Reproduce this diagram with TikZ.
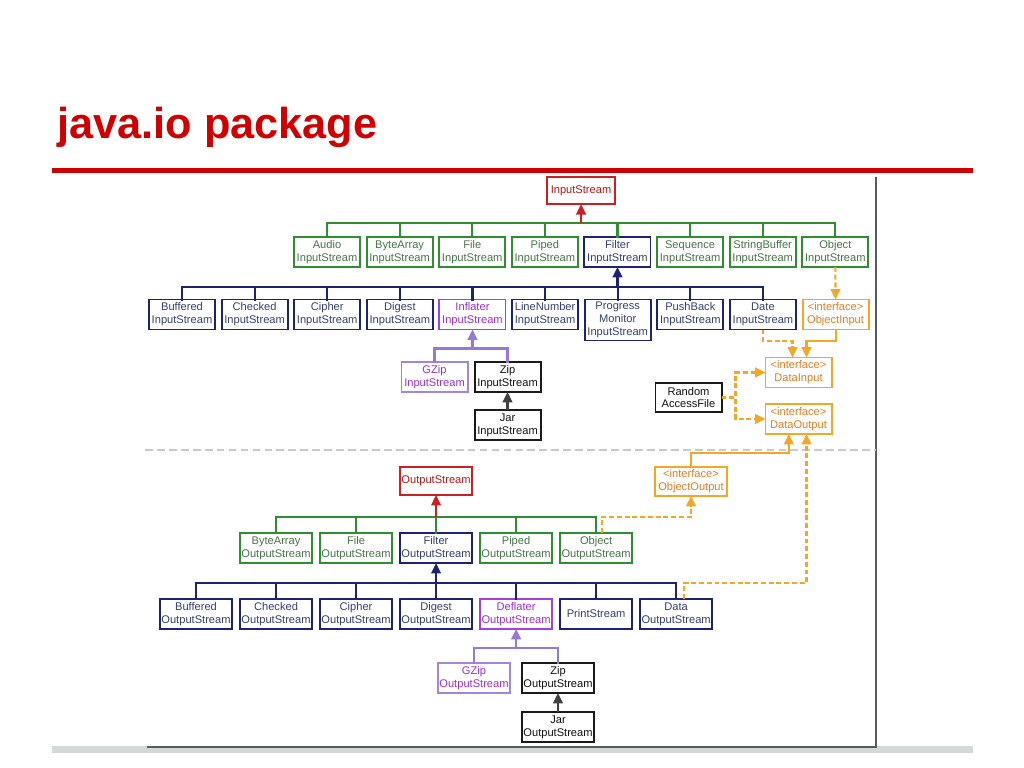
\documentclass[tikz,border=0pt]{standalone}
\usepackage{fontspec}
\setmainfont{Liberation Sans}
\usetikzlibrary{positioning, arrows.meta}

\definecolor{titlered}{HTML}{D00000}
\definecolor{redline}{HTML}{CC1F1F}
\definecolor{redtext}{HTML}{B01818}
\definecolor{grnline}{HTML}{2F8F2F}
\definecolor{grntext}{HTML}{467546}
\definecolor{blueline}{HTML}{1C2470}
\definecolor{bluetext}{HTML}{34406F}
\definecolor{purline}{HTML}{A53FE0}
\definecolor{purtext}{HTML}{9A30D0}
\definecolor{lavline}{HTML}{A585DC}
\definecolor{lavtext}{HTML}{9A30D0}
\definecolor{busline}{HTML}{9678D8}
\definecolor{ornline}{HTML}{F5A623}
\definecolor{orntext}{HTML}{E07E22}
\definecolor{blkline}{HTML}{1A1A1A}
\definecolor{blktext}{HTML}{111111}
\definecolor{jarline}{HTML}{404040}
\definecolor{framegray}{HTML}{5A5A5A}
\definecolor{bargray}{HTML}{D3D9D7}
\definecolor{sepgray}{HTML}{CACACA}

\newcommand{\clsfont}{\fontsize{7.9}{9.2}\selectfont}

\begin{document}
\begin{tikzpicture}[
        x=0.025cm, y=-0.025cm,
        node distance=0.165cm,
        cls/.style={draw=#1line, text=#1text, fill=white, line width=1.4pt, outer sep=0pt, inner xsep=0.5pt, inner ysep=1pt, minimum width=1.65cm, minimum height=0.75cm, font=\clsfont, align=center},
        cls/.default=grn,
        wide/.style={minimum width=1.8cm},
        bus/.style={line width=1.5pt, line cap=rect},
        arr/.style={-{Triangle[length=2.6mm, width=2.4mm]}, line width=1.5pt},
        odash/.style={dash pattern=on 3.5pt off 2pt},
    ]
    \useasboundingbox (0,0) rectangle (1024,768);
    \fill[white] (0,0) rectangle (1024,768);

    % Slide title and frame
    \node[anchor=base west, inner sep=0pt, text=titlered, font=\fontsize{30.8}{36}\selectfont\bfseries] (title) at (57,139) {java.io package};
    \draw[titlered, line width=3.6pt] (52,170.5) -- (973,170.5);
    \fill[bargray] (52,746) rectangle (973,752.5);
    \draw[framegray, line width=1.4pt] (147,747) -- (876,747) -- (876,177);
    \draw[sepgray, line width=2pt, dash pattern=on 5.5pt off 3pt] (145,450) -- (876,450);

    % Input streams
    \node[cls=red, minimum width=1.7cm, minimum height=0.68cm] (istream) at (581,190.5) {InputStream};
    \node[cls] (audio) at (327,252) {Audio\\InputStream};
    \node[cls, right=of audio] (bytein) {ByteArray\\InputStream};
    \node[cls, right=of bytein] (filein) {File\\InputStream};
    \node[cls, right=of filein] (pipedin) {Piped\\InputStream};
    \node[cls=blue, right=of pipedin] (filterin) {Filter\\InputStream};
    \node[cls, right=of filterin] (seqin) {Sequence\\InputStream};
    \node[cls, right=of seqin] (sbufin) {StringBuffer\\InputStream};
    \node[cls, right=of sbufin] (objin) {Object\\InputStream};

    % Filter input streams
    \node[cls=blue] (bufin) at (182,314.5) {Buffered\\InputStream};
    \node[cls=blue, right=of bufin] (checkin) {Checked\\InputStream};
    \node[cls=blue, right=of checkin] (cipherin) {Cipher\\InputStream};
    \node[cls=blue, right=of cipherin] (digestin) {Digest\\InputStream};
    \node[cls=pur, right=of digestin] (inflin) {Inflater\\InputStream};
    \node[cls=blue, right=of inflin] (linein) {LineNumber\\InputStream};
    \node[cls=blue, minimum height=1.025cm, right=of linein.north east, anchor=north west] (progin) {Progress\\Monitor\\InputStream};
    \node[cls=blue, right=of progin.north east, anchor=north west] (pushin) {PushBack\\InputStream};
    \node[cls=blue, right=of pushin] (datein) {Date\\InputStream};
    \node[cls=orn, right=of datein] (objinput) {<interface>\\ObjectInput};

    % Inflater subclasses
    \node[cls=lav] (gzipin) at (434.5,377) {GZip\\InputStream};
    \node[cls=blk, right=0.175cm of gzipin] (zipin) {Zip\\InputStream};
    \node[cls=blk, below=0.45cm of zipin] (jarin) {Jar\\InputStream};

    % Data interfaces
    \node[cls=blk, minimum height=0.725cm] (raf) at (688.5,397.5) {Random\\AccessFile};
    \node[cls=orn] (datain) at (798.5,372.5) {<interface>\\DataInput};
    \node[cls=orn] (dataout) at (798.5,419) {<interface>\\DataOutput};

    % Output streams
    \node[cls, wide] (byteout) at (276,548) {ByteArray\\OutputStream};
    \node[cls, wide, right=0.2cm of byteout] (fileout) {File\\OutputStream};
    \node[cls=blue, wide, right=0.2cm of fileout] (filterout) {Filter\\OutputStream};
    \node[cls, wide, right=0.2cm of filterout] (pipedout) {Piped\\OutputStream};
    \node[cls, wide, right=0.2cm of pipedout] (objos) {Object\\OutputStream};
    \node[cls=red, wide, minimum height=0.7cm, above=0.95cm of filterout] (ostream) {OutputStream};
    \node[cls=orn, wide, minimum height=0.725cm] (objout) at (691,481.5) {<interface>\\ObjectOutput};

    % Filter output streams
    \node[cls=blue, wide] (bufout) at (196,614) {Buffered\\OutputStream};
    \node[cls=blue, wide, right=0.2cm of bufout] (checkout) {Checked\\OutputStream};
    \node[cls=blue, wide, right=0.2cm of checkout] (cipherout) {Cipher\\OutputStream};
    \node[cls=blue, wide, right=0.2cm of cipherout] (digestout) {Digest\\OutputStream};
    \node[cls=pur, wide, right=0.2cm of digestout] (deflout) {Deflater\\OutputStream};
    \node[cls=blue, wide, right=0.2cm of deflout] (printout) {PrintStream};
    \node[cls=blue, wide, right=0.2cm of printout] (dataos) {Data\\OutputStream};

    % Deflater subclasses
    \node[cls=lav, wide] (gzipout) at (474,678) {GZip\\OutputStream};
    \node[cls=blk, wide, right=0.3cm of gzipout] (zipout) {Zip\\OutputStream};
    \node[cls=blk, wide, below=0.475cm of zipout] (jarout) {Jar\\OutputStream};

    % Bus points
    \path (istream.south) ++(0,18.5) coordinate (busA);
    \path (filterin.south) ++(0,20) coordinate (busB);
    \path (inflin.south) ++(0,19) coordinate (busI);
    \path (ostream.south) ++(0,22) coordinate (busC);
    \path (filterout.south) ++(0,20) coordinate (busD);
    \path (deflout.south) ++(0,19) coordinate (busO);

    % Inheritance trees
    \foreach \n in {audio, bytein, filein, pipedin, filterin, seqin, sbufin, objin} {
        \draw[bus, grnline] (\n.north) -- (\n.north |- busA);
    }
    \draw[bus, grnline] (audio.north |- busA) -- (objin.north |- busA);
    \draw[arr, redline] (busA) -- (istream.south);

    \foreach \n in {bufin, checkin, cipherin, digestin, inflin, linein, progin, pushin, datein} {
        \draw[bus, blueline] (\n.north) -- (\n.north |- busB);
    }
    \draw[bus, blueline] (bufin.north |- busB) -- (datein.north |- busB);
    \draw[arr, blueline] (busB) -- (filterin.south);

    \draw[bus, busline] (gzipin.north) |- (busI) -| (zipin.north);
    \draw[arr, busline] (busI) -- (inflin.south);
    \draw[arr, jarline] (jarin.north) -- (zipin.south);

    \foreach \n in {byteout, fileout, filterout, pipedout, objos} {
        \draw[bus, grnline] (\n.north) -- (\n.north |- busC);
    }
    \draw[bus, grnline] (byteout.north |- busC) -- (objos.north |- busC);
    \draw[arr, redline] (busC) -- (ostream.south);

    \foreach \n in {bufout, checkout, cipherout, digestout, deflout, printout, dataos} {
        \draw[bus, blueline] (\n.north) -- (\n.north |- busD);
    }
    \draw[bus, blueline] (bufout.north |- busD) -- (dataos.north |- busD);
    \draw[arr, blueline] (busD) -- (filterout.south);

    \draw[bus, busline] (gzipout.north) |- (busO) -| (zipout.north);
    \draw[arr, busline] (busO) -- (deflout.south);
    \draw[arr, jarline] (jarout.north) -- (zipout.south);

    % Interface links
    \draw[arr, ornline, odash] (objin.south) -- (objinput.north);
    \draw[arr, ornline, odash] (datein.south) -- ++(0,11.5) -| ([xshift=-0.15cm]datain.north);
    \draw[arr, ornline] (objinput.south) -- ++(0,11.5) -| ([xshift=0.2cm]datain.north);
    \draw[arr, ornline, odash] (raf.east) -- ++(14,0) |- (datain.west);
    \draw[arr, ornline, odash] (raf.east) -- ++(14,0) |- (dataout.west);
    \draw[arr, ornline] (objout.north) -- ++(0,-14) -| ([xshift=-0.24cm]dataout.south);
    \draw[arr, ornline, odash] ([xshift=0.2cm]dataos.north) -- ++(0,-16) -| ([xshift=0.2cm]dataout.south);
    \draw[arr, ornline, odash] ([xshift=0.15cm]objos.north) -- ++(0,-16) -| (objout.south);

\end{tikzpicture}
\end{document}
